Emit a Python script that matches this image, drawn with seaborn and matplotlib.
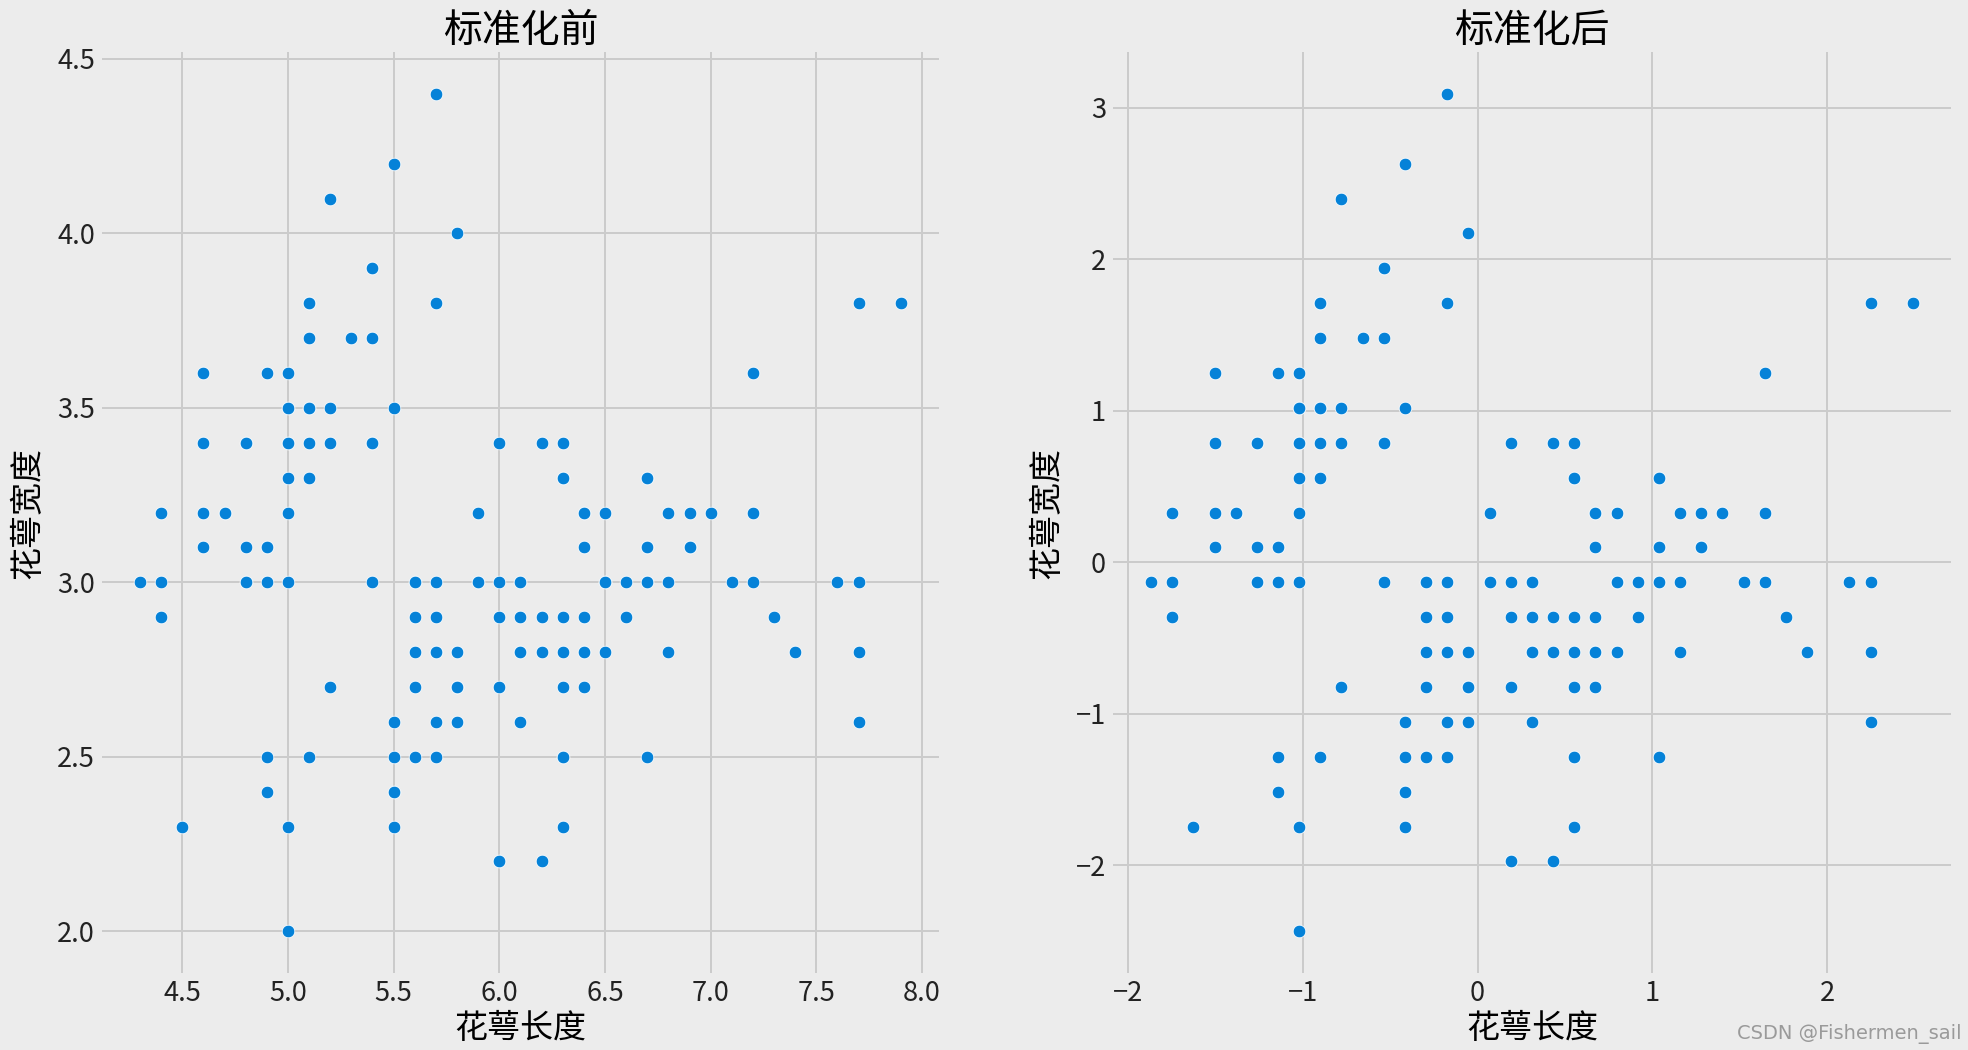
import numpy as np
import pandas as pd
import matplotlib
matplotlib.use("Agg")
import matplotlib.pyplot as plt
import seaborn as sns

# Iris sepal measurements (150 samples)
sepal_length = [
    5.1, 4.9, 4.7, 4.6, 5.0, 5.4, 4.6, 5.0, 4.4, 4.9, 5.4, 4.8, 4.8, 4.3, 5.8, 5.7, 5.4, 5.1, 5.7, 5.1,
    5.4, 5.1, 4.6, 5.1, 4.8, 5.0, 5.0, 5.2, 5.2, 4.7, 4.8, 5.4, 5.2, 5.5, 4.9, 5.0, 5.5, 4.9, 4.4, 5.1,
    5.0, 4.5, 4.4, 5.0, 5.1, 4.8, 5.1, 4.6, 5.3, 5.0,
    7.0, 6.4, 6.9, 5.5, 6.5, 5.7, 6.3, 4.9, 6.6, 5.2, 5.0, 5.9, 6.0, 6.1, 5.6, 6.7, 5.6, 5.8, 6.2, 5.6,
    5.9, 6.1, 6.3, 6.1, 6.4, 6.6, 6.8, 6.7, 6.0, 5.7, 5.5, 5.5, 5.8, 6.0, 5.4, 6.0, 6.7, 6.3, 5.6, 5.5,
    5.5, 6.1, 5.8, 5.0, 5.6, 5.7, 5.7, 6.2, 5.1, 5.7,
    6.3, 5.8, 7.1, 6.3, 6.5, 7.6, 4.9, 7.3, 6.7, 7.2, 6.5, 6.4, 6.8, 5.7, 5.8, 6.4, 6.5, 7.7, 7.7, 6.0,
    6.9, 5.6, 7.7, 6.3, 6.7, 7.2, 6.2, 6.1, 6.4, 7.2, 7.4, 7.9, 6.4, 6.3, 6.1, 7.7, 6.3, 6.4, 6.0, 6.9,
    6.7, 6.9, 5.8, 6.8, 6.7, 6.7, 6.3, 6.5, 6.2, 5.9,
]
sepal_width = [
    3.5, 3.0, 3.2, 3.1, 3.6, 3.9, 3.4, 3.4, 2.9, 3.1, 3.7, 3.4, 3.0, 3.0, 4.0, 4.4, 3.9, 3.5, 3.8, 3.8,
    3.4, 3.7, 3.6, 3.3, 3.4, 3.0, 3.4, 3.5, 3.4, 3.2, 3.1, 3.4, 4.1, 4.2, 3.1, 3.2, 3.5, 3.6, 3.0, 3.4,
    3.5, 2.3, 3.2, 3.5, 3.8, 3.0, 3.8, 3.2, 3.7, 3.3,
    3.2, 3.2, 3.1, 2.3, 2.8, 2.8, 3.3, 2.4, 2.9, 2.7, 2.0, 3.0, 2.2, 2.9, 2.9, 3.1, 3.0, 2.7, 2.2, 2.5,
    3.2, 2.8, 2.5, 2.8, 2.9, 3.0, 2.8, 3.0, 2.9, 2.6, 2.4, 2.4, 2.7, 2.7, 3.0, 3.4, 3.1, 2.3, 3.0, 2.5,
    2.6, 3.0, 2.6, 2.3, 2.7, 3.0, 2.9, 2.9, 2.5, 2.8,
    3.3, 2.7, 3.0, 2.9, 3.0, 3.0, 2.5, 2.9, 2.5, 3.6, 3.2, 2.7, 3.0, 2.5, 2.8, 3.2, 3.0, 3.8, 2.6, 2.2,
    3.2, 2.8, 2.8, 2.7, 3.3, 3.2, 2.8, 3.0, 2.8, 3.0, 2.8, 3.8, 2.8, 2.8, 2.6, 3.0, 3.4, 3.1, 3.0, 3.1,
    3.1, 3.1, 2.7, 3.2, 3.3, 3.0, 2.5, 3.0, 3.4, 3.0,
]

titles = ["标准化前", "标准化后"]
x_label = "花萼长度"
y_label = "花萼宽度"
watermark = "CSDN @Fishermen_sail"

df = pd.DataFrame({"x": sepal_length, "y": sepal_width})
# standardized (z-score, population std like sklearn StandardScaler)
df_std = (df - df.mean()) / df.std(ddof=0)

plt.style.use("fivethirtyeight")
bg = "#ececec"
plt.rcParams.update({
    "font.family": ["Noto Sans CJK SC", "DejaVu Sans"],
    "axes.unicode_minus": True,
    "figure.facecolor": bg,
    "axes.facecolor": bg,
    "axes.edgecolor": bg,
    "savefig.facecolor": bg,
})

fig = plt.figure(figsize=(1968 / 140, 1050 / 140), dpi=140)
ax1 = fig.add_axes([0.0518, 0.0733, 0.4253, 0.8772])
ax2 = fig.add_axes([0.5655, 0.0733, 0.4259, 0.8772])

point_color = "#0582d8"
for ax, data, title in [(ax1, df, titles[0]), (ax2, df_std, titles[1])]:
    sns.scatterplot(data=data, x="x", y="y", ax=ax, color=point_color, s=42,
                    edgecolor="white", linewidth=0.4)
    ax.set_title(title, fontsize=20, pad=5, fontweight="medium")
    ax.set_xlabel(x_label, fontsize=17, labelpad=2, fontweight="medium")
    ax.set_ylabel(y_label, fontsize=17, labelpad=6, fontweight="medium")
    ax.tick_params(labelsize=14, colors="#222222")
    ax.grid(True, color="#cbcbcb", linewidth=1.0)
    for sp in ax.spines.values():
        sp.set_visible(False)

ax1.set_xticks(np.arange(4.5, 8.01, 0.5))
ax1.set_yticks(np.arange(2.0, 4.51, 0.5))
ax2.set_xticks([-2, -1, 0, 1, 2])
ax2.set_yticks([-2, -1, 0, 1, 2, 3])

fig.text(0.997, 0.006, watermark, ha="right", va="bottom", fontsize=10,
         color="#9a9a9a", family=["Liberation Sans Narrow", "DejaVu Sans"])

fig.savefig("out.png", dpi=140, facecolor=bg)
